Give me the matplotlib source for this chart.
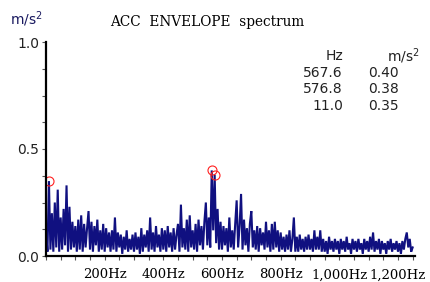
import numpy as np
import matplotlib
matplotlib.use("Agg")
import matplotlib.pyplot as plt
from matplotlib.ticker import MultipleLocator, FixedLocator

# frequency grid (Hz), 5 Hz resolution
freq_step = 5
amplitude = [
    0.12, 0.02, 0.35, 0.03, 0.20, 0.02, 0.25, 0.04, 0.31, 0.02,   # 0-45
    0.18, 0.03, 0.22, 0.05, 0.33, 0.02, 0.23, 0.03, 0.16, 0.04,   # 50-95
    0.14, 0.02, 0.17, 0.03, 0.19, 0.02, 0.15, 0.04, 0.13, 0.21,   # 100-145
    0.03, 0.16, 0.02, 0.14, 0.05, 0.17, 0.02, 0.12, 0.03, 0.15,   # 150-195
    0.02, 0.13, 0.04, 0.11, 0.02, 0.12, 0.03, 0.18, 0.02, 0.11,   # 200-245
    0.04, 0.10, 0.01, 0.09, 0.03, 0.12, 0.02, 0.08, 0.03, 0.10,   # 250-295
    0.02, 0.11, 0.03, 0.09, 0.01, 0.13, 0.02, 0.10, 0.04, 0.12,   # 300-345
    0.02, 0.18, 0.03, 0.11, 0.02, 0.14, 0.04, 0.10, 0.02, 0.13,   # 350-395
    0.03, 0.12, 0.02, 0.14, 0.04, 0.11, 0.02, 0.13, 0.03, 0.10,   # 400-445
    0.15, 0.02, 0.24, 0.04, 0.13, 0.03, 0.17, 0.02, 0.19, 0.04,   # 450-495
    0.12, 0.03, 0.15, 0.02, 0.17, 0.05, 0.14, 0.03, 0.16, 0.25,   # 500-545
    0.05, 0.18, 0.04, 0.40, 0.12, 0.38, 0.06, 0.22, 0.03, 0.16,   # 550-595
    0.03, 0.14, 0.05, 0.13, 0.02, 0.18, 0.04, 0.12, 0.03, 0.15,   # 600-645
    0.26, 0.04, 0.14, 0.29, 0.03, 0.17, 0.05, 0.13, 0.02, 0.15,   # 650-695
    0.21, 0.04, 0.12, 0.03, 0.14, 0.02, 0.13, 0.05, 0.11, 0.03,   # 700-745
    0.16, 0.04, 0.12, 0.02, 0.15, 0.03, 0.16, 0.04, 0.12, 0.02,   # 750-795
    0.11, 0.03, 0.09, 0.02, 0.10, 0.03, 0.12, 0.02, 0.08, 0.18,   # 800-845
    0.02, 0.09, 0.02, 0.10, 0.03, 0.08, 0.02, 0.09, 0.03, 0.10,   # 850-895
    0.03, 0.08, 0.02, 0.12, 0.03, 0.09, 0.03, 0.12, 0.02, 0.08,   # 900-945
    0.02, 0.07, 0.01, 0.09, 0.03, 0.07, 0.02, 0.08, 0.03, 0.07,   # 950-995
    0.01, 0.08, 0.03, 0.07, 0.02, 0.09, 0.03, 0.06, 0.01, 0.08,   # 1000-1045
    0.03, 0.07, 0.02, 0.08, 0.03, 0.06, 0.01, 0.08, 0.03, 0.07,   # 1050-1095
    0.02, 0.09, 0.03, 0.11, 0.02, 0.07, 0.03, 0.08, 0.01, 0.07,   # 1100-1145
    0.03, 0.06, 0.01, 0.07, 0.03, 0.08, 0.02, 0.06, 0.03, 0.07,   # 1150-1195
    0.02, 0.06, 0.01, 0.07, 0.03, 0.08, 0.11, 0.04, 0.08, 0.02,   # 1200-1245
    0.04,                                                         # 1250
]
freq = np.arange(len(amplitude)) * freq_step

peak_freq = [567.6, 576.8, 11.0]
peak_amp = [0.40, 0.38, 0.35]
peak_plot_freq = [565, 575, 10]

xtick_vals = [200, 400, 600, 800, 1000, 1200]
xtick_labels = ["200Hz", "400Hz", "600Hz", "800Hz", "1,000Hz", "1,200Hz"]
ytick_vals = [0.0, 0.5, 1.0]
ytick_labels = ["0.0", "0.5", "1.0"]

W, H = 430, 282
fig = plt.figure(figsize=(W / 100, H / 100), dpi=100)
ax = fig.add_axes([46 / W, (H - 256) / H, (415 - 46) / W, (256 - 42) / H])

ax.plot(freq, amplitude, color="#101080", lw=1.5, solid_joinstyle="miter")
ax.plot(peak_plot_freq, peak_amp, linestyle="none", marker="o", ms=6.5,
        mfc="none", mec="#ff2020", mew=0.8)

ax.set_xlim(0, 1258)
ax.set_ylim(0, 1.0)
for s in ["top", "right"]:
    ax.spines[s].set_visible(False)
for s in ["left", "bottom"]:
    ax.spines[s].set_linewidth(1.6)
    ax.spines[s].set_color("black")

ax.xaxis.set_major_locator(FixedLocator(xtick_vals))
ax.set_xticklabels(xtick_labels, family="DejaVu Serif", fontsize=9.5)
ax.xaxis.set_minor_locator(MultipleLocator(50))
ax.yaxis.set_major_locator(FixedLocator(ytick_vals))
ax.set_yticklabels(ytick_labels, family="DejaVu Sans", fontsize=10, color="#222222")
ax.yaxis.set_minor_locator(MultipleLocator(0.125))
ax.tick_params(axis="both", which="both", direction="out", length=3, width=0.8,
               color="#555555")
ax.tick_params(axis="x", which="major", pad=6)
ax.tick_params(axis="y", which="major", pad=2)

fig.text(10 / W, 1 - 19 / H, r"m/s$^2$", fontsize=10, color="#1a1a60",
         family="DejaVu Sans", va="center", ha="left")
fig.text(207 / W, 1 - 22 / H, "ACC  ENVELOPE  spectrum", fontsize=9.8,
         family="DejaVu Serif", ha="center", va="center")

# peak table
fig.text(343 / W, 1 - 56 / H, "Hz", fontsize=10, ha="right", va="center", color="#222222")
fig.text(420 / W, 1 - 56 / H, r"m/s$^2$", fontsize=10, ha="right", va="center", color="#222222")
for i, (f, a) in enumerate(zip(peak_freq, peak_amp)):
    y = 1 - (73 + 16.5 * i) / H
    fig.text(343 / W, y, f"{f:.1f}", fontsize=10, ha="right", va="center", color="#222222")
    fig.text(368 / W, y, f"{a:.2f}", fontsize=10, ha="left", va="center", color="#222222")

fig.savefig("out.png", dpi=100)
